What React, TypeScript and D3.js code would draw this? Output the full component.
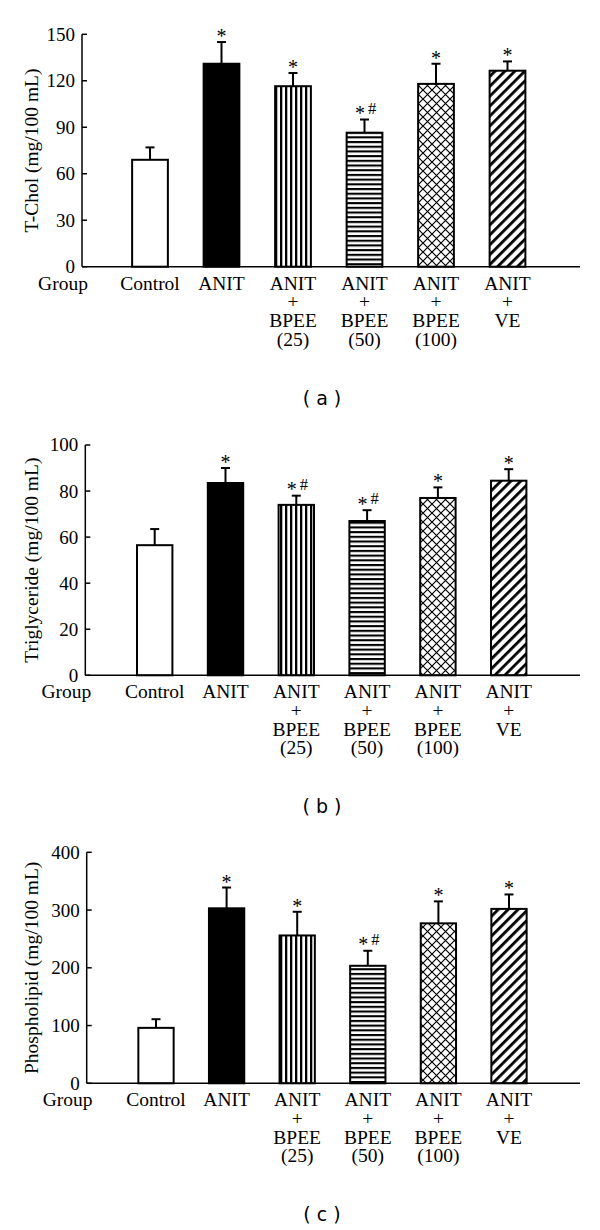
import React from "react";
import * as d3 from "d3";

// ---------- data ----------
const groupLabel = "Group";
const categories = [
  "Control",
  "ANIT",
  "ANIT|+|BPEE|(25)",
  "ANIT|+|BPEE|(50)",
  "ANIT|+|BPEE|(100)",
  "ANIT|+|VE",
];

const tcholTicks = [0, 30, 60, 90, 120, 150];
const tcholMean = [69, 131, 116.5, 86.5, 118, 126.5];
const tcholErr = [8, 14, 8.5, 8.5, 13, 6];
const tcholSig = ["", "*", "*", "*#", "*", "*"];

const trigTicks = [0, 20, 40, 60, 80, 100];
const trigMean = [56.5, 83.5, 74, 67, 77, 84.5];
const trigErr = [7, 6.5, 4, 4.7, 4.6, 5];
const trigSig = ["", "*", "*#", "*#", "*", "*"];

const phosTicks = [0, 100, 200, 300, 400];
const phosMean = [96, 303, 256, 203.5, 277, 302];
const phosErr = [15, 36, 41, 26, 38, 25];
const phosSig = ["", "*", "*", "*#", "*", "*"];

const yTitles = ["T-Chol (mg/100 mL)", "Triglyceride (mg/100 mL)", "Phospholipid (mg/100 mL)"];
const panelLetters = ["( a )", "( b )", "( c )"];

// ---------- style / layout ----------
const fills = ["#fff", "#000", "url(#vstripe)", "url(#hstripe)", "url(#cross)", "url(#diag)"];
const layouts = [
  { axisX: 82, y0: 266.7, yTop: 34.3, c0: 150, step: 71.5 },
  { axisX: 85.3, y0: 675.3, yTop: 445, c0: 154.7, step: 70.8 },
  { axisX: 86.7, y0: 1083.3, yTop: 852.3, c0: 156, step: 70.6 },
];
const X_END = 580;
const SERIF = "'Liberation Serif', 'Times New Roman', serif";

type PanelProps = {
  ticks: number[];
  mean: number[];
  err: number[];
  sig: string[];
  title: string;
  letter: string;
  layout: { axisX: number; y0: number; yTop: number; c0: number; step: number };
};

function Panel({ ticks, mean, err, sig, title, letter, layout }: PanelProps) {
  const { axisX, y0, yTop, c0, step } = layout;
  const maxV = ticks[ticks.length - 1];
  const y = d3.scaleLinear().domain([0, maxV]).range([y0, yTop]);
  const start = c0 - step / 2;
  const x = d3
    .scaleBand<string>()
    .domain(categories)
    .range([start, start + step * categories.length])
    .paddingInner(0.5)
    .paddingOuter(0.25);
  const bw = x.bandwidth();

  return (
    <g>
      {/* bars */}
      {categories.map((c, i) => {
        const bx = x(c)!;
        const top = y(mean[i]);
        return (
          <rect
            key={"b" + i}
            x={bx}
            y={top}
            width={bw}
            height={y0 - top}
            fill={fills[i]}
            stroke="#000"
            strokeWidth={2}
          />
        );
      })}
      {/* error bars */}
      {categories.map((c, i) => {
        const cx = x(c)! + bw / 2;
        const top = y(mean[i]);
        const cap = y(mean[i] + err[i]);
        return (
          <g key={"e" + i} stroke="#000" strokeWidth={2}>
            <line x1={cx} x2={cx} y1={top} y2={cap} />
            <line x1={cx - 4.5} x2={cx + 4.5} y1={cap} y2={cap} />
          </g>
        );
      })}
      {/* significance marks */}
      {categories.map((c, i) => {
        const cx = x(c)! + bw / 2;
        const cap = y(mean[i] + err[i]);
        if (!sig[i]) return null;
        if (sig[i] === "*") {
          return (
            <text key={"s" + i} x={cx} y={cap + 1} textAnchor="middle" fontSize={20} fontFamily={SERIF}>
              *
            </text>
          );
        }
        return (
          <g key={"s" + i} fontFamily={SERIF}>
            <text x={cx - 4.5} y={cap + 0.5} textAnchor="middle" fontSize={20}>
              *
            </text>
            <text x={cx + 7.5} y={cap - 6} textAnchor="middle" fontSize={16.5}>
              #
            </text>
          </g>
        );
      })}
      {/* axes */}
      <line x1={axisX} x2={axisX} y1={y0} y2={y(maxV)} stroke="#000" strokeWidth={1.5} />
      <line x1={axisX} x2={X_END} y1={y0} y2={y0} stroke="#000" strokeWidth={1.5} />
      {ticks.map((t) => (
        <g key={"t" + t}>
          <line x1={axisX} x2={axisX + 5} y1={y(t)} y2={y(t)} stroke="#000" strokeWidth={1.5} />
          <text
            x={axisX - 7}
            y={y(t)}
            dy="0.34em"
            textAnchor="end"
            fontSize={19}
            fontFamily={SERIF}
          >
            {t}
          </text>
        </g>
      ))}
      {/* y title */}
      <text
        transform={`translate(38,${(y0 + yTop) / 2}) rotate(-90)`}
        textAnchor="middle"
        fontSize={19.5}
        fontFamily={SERIF}
      >
        {title}
      </text>
      {/* category labels */}
      <text x={axisX - 19} y={y0 + 23} textAnchor="middle" fontSize={19.5} fontFamily={SERIF}>
        {groupLabel}
      </text>
      {categories.map((c, i) => {
        const cx = x(c)! + bw / 2;
        const lines = c.split("|");
        return (
          <text key={"c" + i} textAnchor="middle" fontSize={19.5} fontFamily={SERIF}>
            {lines.map((l, j) => (
              <tspan key={j} x={cx} y={y0 + 23 + j * 18.7}>
                {l}
              </tspan>
            ))}
          </text>
        );
      })}
      {/* panel letter */}
      <text
        x={322}
        y={y0 + 137.8}
        textAnchor="middle"
        fontSize={19}
        fontFamily="'DejaVu Sans', sans-serif"
        style={{ whiteSpace: "pre" }}
      >
        {letter}
      </text>
    </g>
  );
}

export default function App() {
  const tickSets = [tcholTicks, trigTicks, phosTicks];
  const means = [tcholMean, trigMean, phosMean];
  const errs = [tcholErr, trigErr, phosErr];
  const sigs = [tcholSig, trigSig, phosSig];
  return (
    <svg
      width={600}
      height={1230}
      viewBox="0 0 600 1230"
      style={{ position: "absolute", left: 0, top: 0, background: "#fff" }}
    >
      <defs>
        <pattern id="vstripe" patternUnits="userSpaceOnUse" width={5} height={10}>
          <rect x={0} y={0} width={5} height={10} fill="#fff" />
          <rect x={0} y={0} width={2.3} height={10} fill="#000" />
        </pattern>
        <pattern id="hstripe" patternUnits="userSpaceOnUse" width={10} height={4.7}>
          <rect x={0} y={0} width={10} height={4.7} fill="#fff" />
          <rect x={0} y={0} width={10} height={2.1} fill="#000" />
        </pattern>
        <pattern id="cross" patternUnits="userSpaceOnUse" width={9} height={9}>
          <rect x={0} y={0} width={9} height={9} fill="#fff" />
          <path d="M0,0L9,9M9,0L0,9" stroke="#000" strokeWidth={1.2} />
        </pattern>
        <pattern
          id="diag"
          patternUnits="userSpaceOnUse"
          width={7}
          height={7}
          patternTransform="rotate(45)"
        >
          <rect x={0} y={0} width={7} height={7} fill="#fff" />
          <rect x={0} y={0} width={2.8} height={7} fill="#000" />
        </pattern>
      </defs>
      {layouts.map((lay, k) => (
        <Panel
          key={k}
          ticks={tickSets[k]}
          mean={means[k]}
          err={errs[k]}
          sig={sigs[k]}
          title={yTitles[k]}
          letter={panelLetters[k]}
          layout={lay}
        />
      ))}
    </svg>
  );
}
